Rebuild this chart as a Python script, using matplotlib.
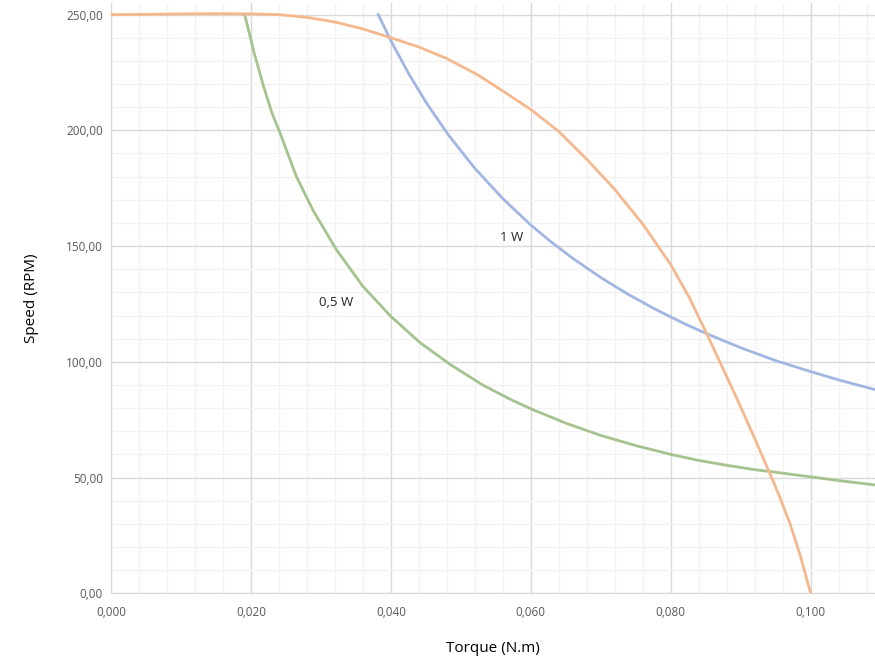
import matplotlib
matplotlib.use("Agg")
import matplotlib.pyplot as plt
from matplotlib.ticker import MultipleLocator, FuncFormatter

plt.rcParams['font.family'] = ['Open Sans', 'DejaVu Sans']

# --- data ---
motor_torque = [0.000, 0.005, 0.010, 0.015, 0.020, 0.024, 0.028, 0.032, 0.036, 0.040,
                0.044, 0.048, 0.0524, 0.056, 0.060, 0.064, 0.068, 0.072, 0.076,
                0.080, 0.0827, 0.0854, 0.0874, 0.0894, 0.0917, 0.094, 0.0955,
                0.097, 0.0985, 0.100]
motor_speed = [250.0, 250.1, 250.3, 250.4, 250.3, 250.0, 248.8, 246.8, 243.8, 240.0,
               236.0, 231.0, 224.0, 217.0, 209.0, 199.5, 187.5, 174.5, 159.5,
               142.0, 127.5, 110.5, 97.5, 84.5, 69.0, 53.0, 42.2,
               30.5, 16.5, 0.0]

p1_torque = [0.0382, 0.040, 0.0425, 0.045, 0.0482, 0.052, 0.056, 0.0600, 0.0627,
             0.066, 0.070, 0.074, 0.078, 0.082, 0.0854, 0.090, 0.095, 0.100,
             0.1042, 0.1092]
p1_speed = [250.0, 238.7, 224.7, 212.2, 198.1, 183.6, 170.5, 159.1, 152.3,
            144.7, 136.4, 129.0, 122.4, 116.4, 111.8, 106.1, 100.5, 95.8,
            92.0, 88.0]

p05_torque = [0.0191, 0.0205, 0.0218, 0.023, 0.0242, 0.0265, 0.0289, 0.0322, 0.036,
              0.040, 0.0442, 0.0485, 0.053, 0.057, 0.060, 0.065, 0.070, 0.075,
              0.080, 0.084, 0.088, 0.092, 0.096, 0.100, 0.1042, 0.1092]
p05_speed = [250.0, 233.0, 219.0, 207.5, 198.5, 180.0, 165.3, 148.5, 132.6,
             119.6, 108.2, 98.8, 90.2, 83.9, 79.7, 73.5, 68.2, 63.8,
             60.0, 57.4, 55.3, 53.4, 51.9, 50.3, 48.6, 46.8]


def comma(fmt):
    return FuncFormatter(lambda v, pos: (fmt % v).replace('.', ','))


fig = plt.figure(figsize=(8.75, 6.57), dpi=100)
ax = fig.add_axes([0.1269, 0.097, 0.8731, 0.8984])

ax.plot(p05_torque, p05_speed, color='#a5c38f', lw=2.0, zorder=3)
ax.plot(p1_torque, p1_speed, color='#a1b6e2', lw=2.0, zorder=3)
ax.plot(motor_torque, motor_speed, color='#f5b88e', lw=2.0, zorder=4)

ax.text(0.0573, 153.7, '1 W', fontsize=9.5, ha='center', va='center', color='#262626')
ax.text(0.0322, 125.6, '0,5 W', fontsize=9.5, ha='center', va='center', color='#262626')

ax.set_xlim(0, 0.1092)
ax.set_ylim(0, 255)

ax.xaxis.set_major_locator(MultipleLocator(0.02))
ax.xaxis.set_minor_locator(MultipleLocator(0.004))
ax.yaxis.set_major_locator(MultipleLocator(50))
ax.yaxis.set_minor_locator(MultipleLocator(10))
ax.xaxis.set_major_formatter(comma('%.3f'))
ax.yaxis.set_major_formatter(comma('%.2f'))

ax.grid(which='major', color='#d9d9d9', lw=1.0)
ax.grid(which='minor', color='#f2f2f2', lw=1.0)
ax.set_axisbelow(True)

for s in ['top', 'right']:
    ax.spines[s].set_visible(False)
for s in ['left', 'bottom']:
    ax.spines[s].set_color('#d9d9d9')

ax.tick_params(which='both', length=0, labelsize=8.5, labelcolor='#595959')
ax.tick_params(axis='x', pad=9)
ax.tick_params(axis='y', pad=6)

ax.set_xlabel('Torque (N.m)', fontsize=11, color='#000000', labelpad=16)
ax.set_ylabel('Speed (RPM)', fontsize=11, color='#000000', labelpad=19)

fig.savefig('out.png', dpi=100)
